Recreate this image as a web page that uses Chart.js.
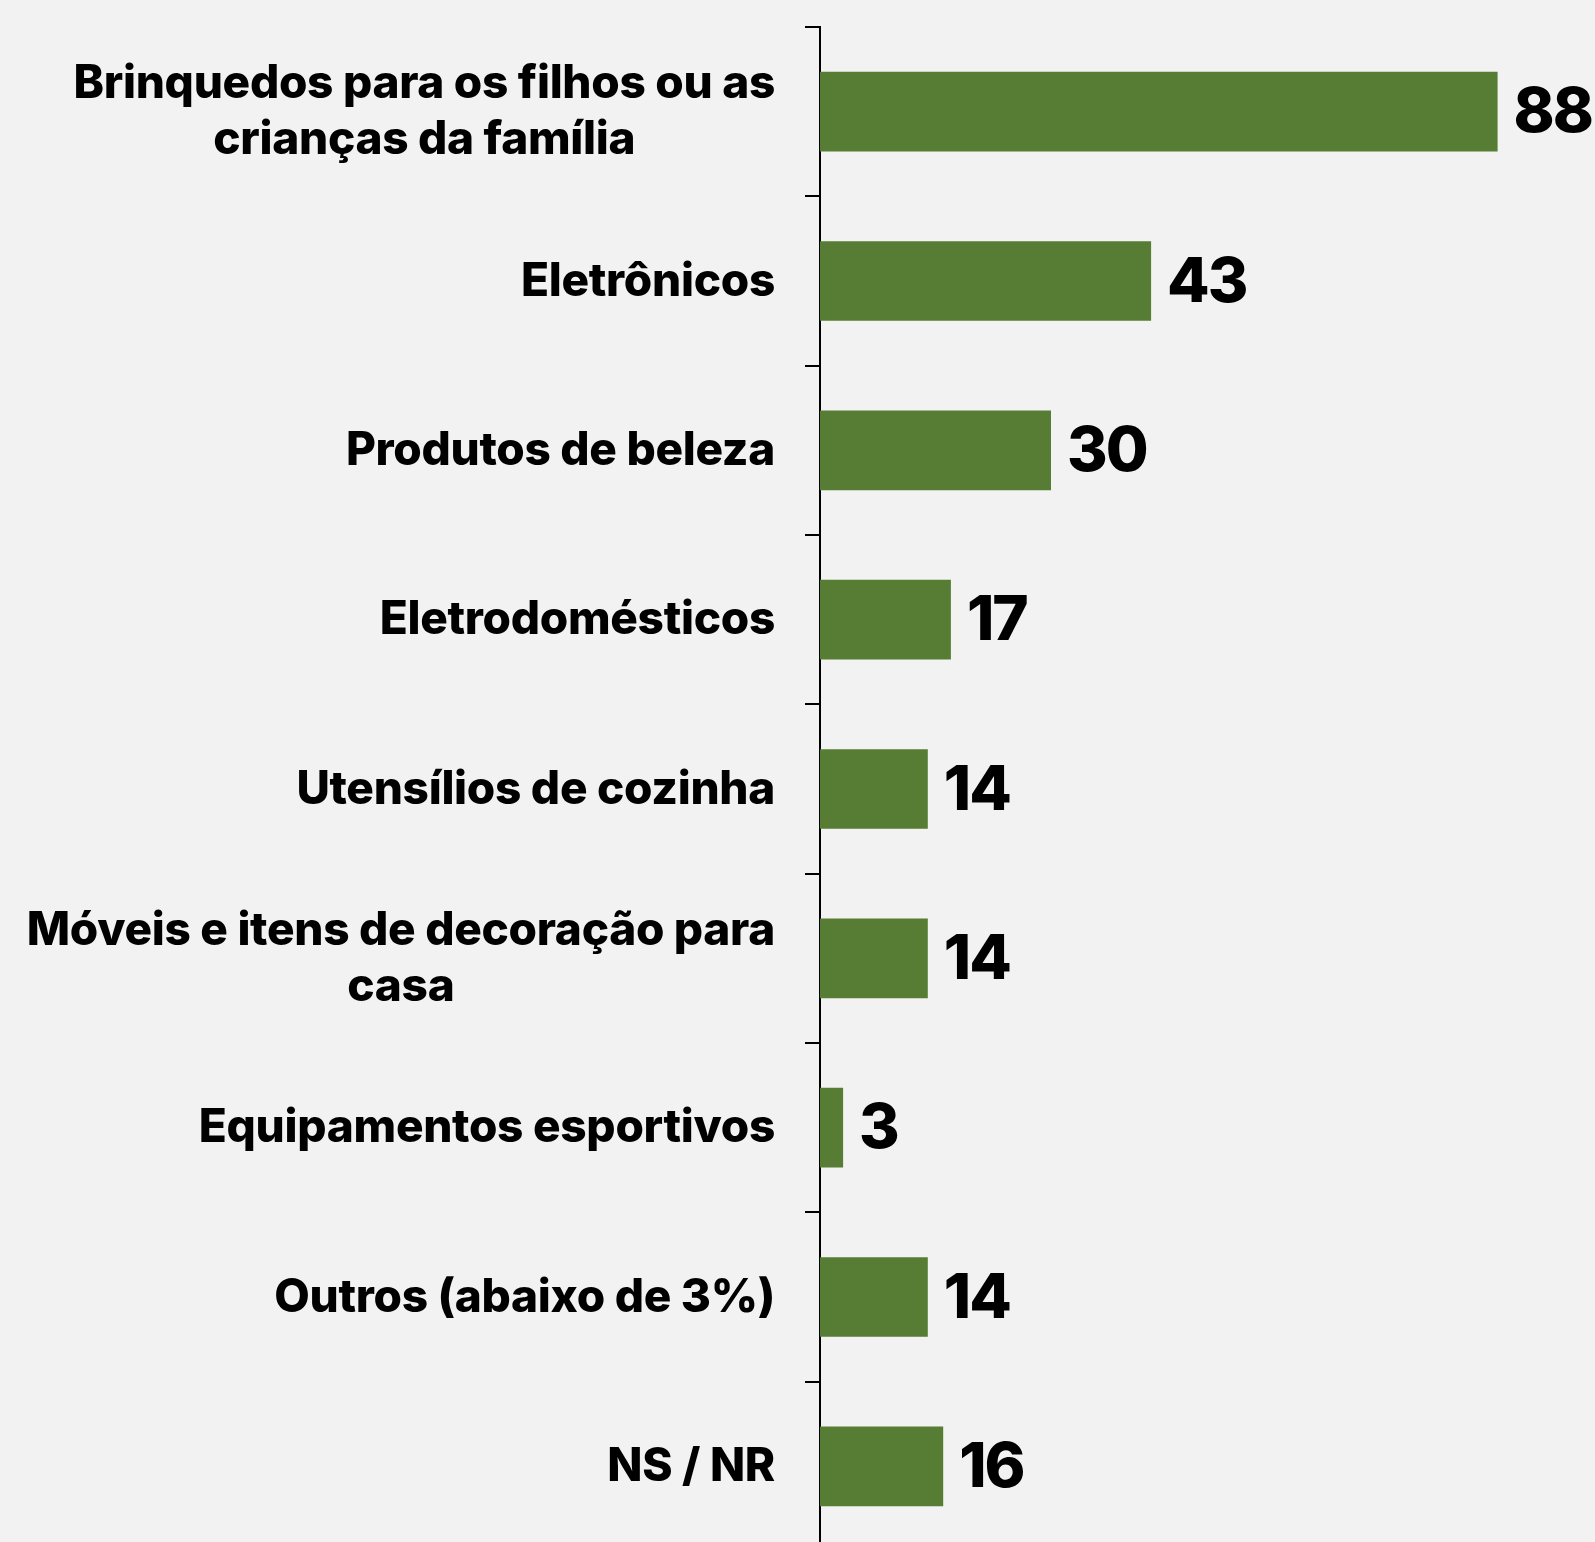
<!DOCTYPE html>
<html lang="pt-BR">
<head>
<meta charset="utf-8">
<title>Compras</title>
<script src="https://cdn.jsdelivr.net/npm/chart.js@4/dist/chart.umd.min.js"></script>
<style>
  html, body { margin: 0; padding: 0; background: #f2f2f2; overflow: hidden; }
  #grafico { display: block; }
</style>
</head>
<body>
<canvas id="grafico" width="1595" height="1560"></canvas>
<script>
// ===== DADOS =====
const categorias = [
  ['Brinquedos para os filhos ou as', 'crianças da família'],
  'Eletrônicos',
  'Produtos de beleza',
  'Eletrodomésticos',
  'Utensílios de cozinha',
  ['Móveis e itens de decoração para', 'casa'],
  'Equipamentos esportivos',
  'Outros (abaixo de 3%)',
  'NS / NR'
];
const valores = [88, 43, 30, 17, 14, 14, 3, 14, 16];

const corBarra = '#567d33';
const corTexto = '#000000';

// rótulos das categorias (linhas centradas entre si) e valores na ponta das barras
const rotulosPlugin = {
  id: 'rotulos',
  afterDatasetsDraw(chart) {
    const { ctx } = chart;
    const escalaY = chart.scales.y;
    const meta = chart.getDatasetMeta(0);

    ctx.save();
    ctx.fillStyle = corTexto;
    ctx.textBaseline = 'middle';
    ctx.font = '800 46px Inter';
    ctx.letterSpacing = '-0.3px';
    ctx.textAlign = 'center';

    categorias.forEach((cat, i) => {
      const linhas = Array.isArray(cat) ? cat : [cat];
      const centroY = escalaY.getPixelForValue(i) + 1;
      const largura = Math.max(...linhas.map(l => ctx.measureText(l).width));
      const centroX = escalaY.right - 45 - largura / 2;
      linhas.forEach((linha, j) => {
        ctx.fillText(linha, centroX, centroY + (j - (linhas.length - 1) / 2) * 56);
      });
    });

    ctx.font = '800 62px Inter';
    ctx.letterSpacing = '-2px';
    ctx.textAlign = 'left';
    meta.data.forEach((barra, i) => {
      ctx.fillText(String(valores[i]), barra.x + 16, barra.y + 2);
    });
    ctx.restore();
  }
};

new Chart(document.getElementById('grafico'), {
  type: 'bar',
  data: {
    labels: categorias,
    datasets: [{
      data: valores,
      backgroundColor: corBarra,
      borderWidth: 0,
      barPercentage: 0.47,
      categoryPercentage: 1
    }]
  },
  options: {
    indexAxis: 'y',
    responsive: false,
    animation: false,
    devicePixelRatio: 1,
    layout: {
      padding: { top: 27, left: 805, right: 5, bottom: 9 }
    },
    plugins: {
      legend: { display: false },
      tooltip: { enabled: false }
    },
    scales: {
      x: {
        display: false,
        min: 0,
        max: 100
      },
      y: {
        ticks: { display: false },
        grid: {
          drawOnChartArea: false,
          drawTicks: true,
          tickLength: 15,
          color: corTexto,
          lineWidth: 2
        },
        border: { display: true, color: corTexto, width: 2 }
      }
    }
  },
  plugins: [rotulosPlugin]
});
</script>
</body>
</html>
